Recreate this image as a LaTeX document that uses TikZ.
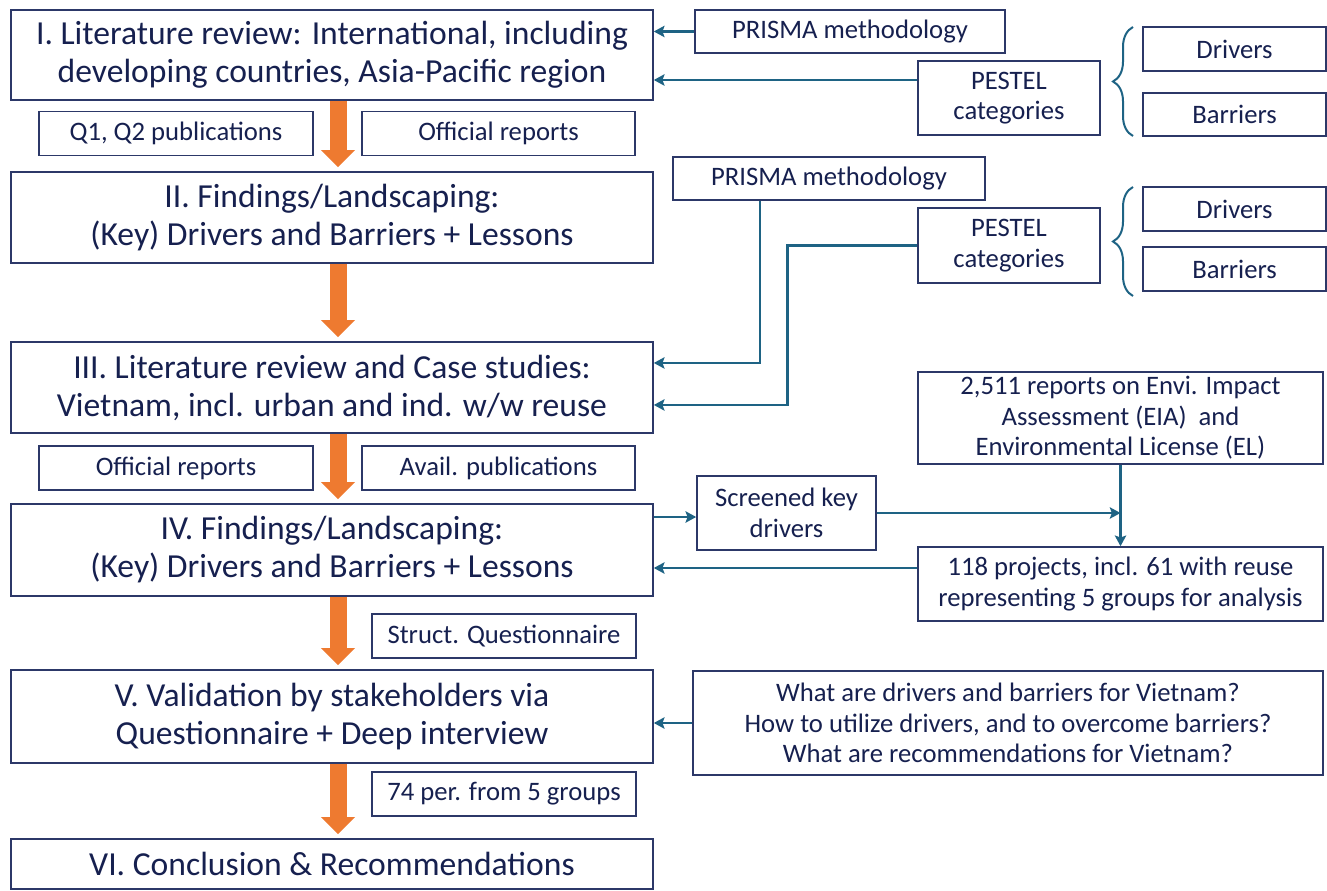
\documentclass[tikz,border=0pt]{standalone}
\usepackage{fontspec}
\setmainfont{Carlito}
\usetikzlibrary{arrows.meta,decorations.pathreplacing}

\definecolor{txtnavy}{HTML}{16204F}
\definecolor{boxline}{HTML}{2C3868}
\definecolor{linkteal}{HTML}{1E6384}
\definecolor{floworange}{HTML}{EE7A30}

\tikzset{every picture/.style={line width=0.75pt}}
\tikzset{
  mainbox/.style={draw=boxline, line width=1.2pt, text=txtnavy, inner sep=0pt, align=center,
    minimum width=481.5pt, font=\fontsize{25.2}{28.5}\selectfont},
  subbox/.style={draw=boxline, line width=1.2pt, text=txtnavy, inner sep=0pt, align=center,
    font=\fontsize{20}{22.8}\selectfont},
  link/.style={draw=linkteal, line width=2pt, -{Stealth[length=8pt,width=8.5pt,inset=1.5pt]}},
  flow/.style={draw=floworange, line width=12.75pt, shorten >=3pt,
    -{Triangle[length=12.75pt,width=24.75pt]}},
  pestelbrace/.style={draw=linkteal, line width=1.5pt,
    decorate, decoration={brace, amplitude=15pt}}
}

\begin{document}
\begin{tikzpicture}[x=0.75pt,y=0.75pt,yscale=-1,xscale=1]
	\useasboundingbox (0,0) rectangle (1327,891);

	%Main steps
	\node [mainbox, minimum height=67.5pt] (litI) at (332,55) {I. Literature review: International, including\\developing countries, Asia-Pacific region};
	\node [mainbox, minimum height=68.25pt] (findII) at (332,217.5) {II. Findings/Landscaping:\\(Key) Drivers and Barriers + Lessons};
	\node [mainbox, minimum height=68.25pt] (caseIII) at (332,387.5) {III. Literature review and Case studies:\\Vietnam, incl. urban and ind. w/w reuse};
	\node [mainbox, minimum height=69pt] (findIV) at (332,550) {IV. Findings/Landscaping:\\(Key) Drivers and Barriers + Lessons};
	\node [mainbox, minimum height=69.75pt] (valV) at (332,716.5) {V. Validation by stakeholders via\\Questionnaire + Deep interview};
	\node [mainbox, minimum height=37.5pt] (conclVI) at (332,864) {VI. Conclusion \& Recommendations};

	%Sources between steps
	\node [subbox, minimum width=205.5pt, minimum height=33pt] (q12pub) at (176,133.5) {Q1, Q2 publications};
	\node [subbox, minimum width=204.75pt, minimum height=33pt] (offrepA) at (498.5,133.5) {Official reports};
	\node [subbox, minimum width=205.5pt, minimum height=33pt] (offrepB) at (176,468) {Official reports};
	\node [subbox, minimum width=204.75pt, minimum height=33pt] (availpub) at (498.5,468) {Avail. publications};
	\node [subbox, minimum width=198pt, minimum height=33pt] (structq) at (504,636) {Struct. Questionnaire};
	\node [subbox, minimum width=198pt, minimum height=33pt] (perfive) at (504,794) {74 per. from 5 groups};

	%Right column, first group
	\node [subbox, minimum width=232.5pt, minimum height=32.25pt] (prismaA) at (850,31.5) {PRISMA methodology};
	\node [subbox, minimum width=136.5pt, minimum height=55.5pt] (pestelA) at (1009,98) {PESTEL\\categories};
	\node [subbox, minimum width=137.25pt, minimum height=33pt] (drvA) at (1234.5,49) {Drivers};
	\node [subbox, minimum width=137.25pt, minimum height=32.25pt] (barA) at (1234.5,114.5) {Barriers};

	%Right column, second group
	\node [subbox, minimum width=234pt, minimum height=32.25pt] (prismaB) at (829,178.5) {PRISMA methodology};
	\node [subbox, minimum width=136.5pt, minimum height=56.25pt] (pestelB) at (1009,245.5) {PESTEL\\categories};
	\node [subbox, minimum width=137.25pt, minimum height=33pt] (drvB) at (1234.5,209) {Drivers};
	\node [subbox, minimum width=137.25pt, minimum height=33pt] (barB) at (1234.5,269) {Barriers};

	%Right column, Vietnam data
	\node [subbox, minimum width=303.75pt, minimum height=69pt] (eia) at (1120.5,418) {2,511 reports on Envi. Impact\\Assessment (EIA)\ \ and\\Environmental License (EL)};
	\node [subbox, minimum width=134.25pt, minimum height=55.5pt] (screened) at (786.5,513) {Screened key\\drivers};
	\node [subbox, minimum width=303.75pt, minimum height=55.5pt] (proj118) at (1120.5,584) {118 projects, incl. 61 with reuse\\representing 5 groups for analysis};
	\node [subbox, minimum width=472.5pt, minimum height=78pt] (questions) at (1008,723) {What are drivers and barriers for Vietnam?\\How to utilize drivers, and to overcome barriers?\\What are recommendations for Vietnam?};

	%Orange flow
	\coordinate (spine) at (338,0);
	\draw [flow] (litI.south -| spine) -- (findII.north -| spine);
	\draw [flow] (findII.south -| spine) -- (caseIII.north -| spine);
	\draw [flow] (caseIII.south -| spine) -- (findIV.north -| spine);
	\draw [flow] (findIV.south -| spine) -- (valV.north -| spine);
	\draw [flow] (valV.south -| spine) -- (conclVI.north -| spine);

	%Braces
	\draw [pestelbrace] (1133,136) -- (1133,27);
	\draw [pestelbrace] (1133,296) -- (1133,187);

	%Links (yshift runs down here, the picture has yscale=-1)
	\draw [link] (prismaA.west) -- (prismaA.west -| litI.east);
	\draw [link] ([yshift=-13.5pt]pestelA.west) -- ([yshift=-13.5pt]pestelA.west -| litI.east);
	\draw [link] ([xshift=-51.75pt]prismaB.south) |- ([yshift=-18.4pt]caseIII.east);
	\draw [link] (pestelB.west) -- ++(-130,0) |- ([yshift=13.1pt]caseIII.east);
	\draw [link] ([yshift=-24.75pt]findIV.east) -- ([yshift=-24.75pt]findIV.east -| screened.west);
	\draw [link] (screened.east) -- (screened.east -| eia.south);
	\draw [link] (eia.south) -- (proj118.north);
	\draw [link] ([yshift=-12pt]proj118.west) -- ([yshift=-12pt]proj118.west -| findIV.east);
	\draw [link] (questions.west) -- (questions.west -| valV.east);

\end{tikzpicture}
\end{document}
